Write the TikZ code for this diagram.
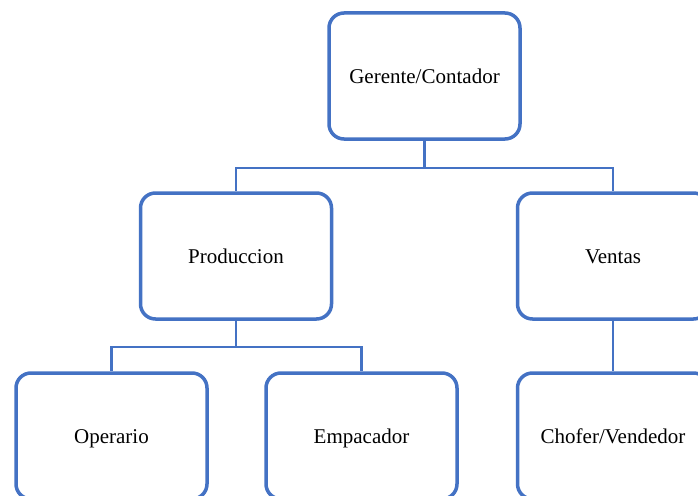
\documentclass[tikz,border=0pt]{standalone}
\usepackage{fontspec}
\setmainfont{Liberation Serif}
\begin{document}
\begin{tikzpicture}[x=1pt,y=-1pt,
  orgbox/.style={draw=boxblue, line width=3.5pt, rounded corners=15pt, fill=white,
    minimum width=191pt, minimum height=126pt, inner sep=0pt,
    text height=17pt, text depth=1.5pt,
    font=\fontsize{21}{25}\selectfont, text=black},
  conn/.style={draw=boxblue, line width=2.4pt}]
\definecolor{boxblue}{RGB}{68,114,196}
\clip (0,0) rectangle (698,495);
\fill[white] (0,0) rectangle (698,495);
\node[orgbox] (g) at (424.5,76) {Gerente/Contador};
\node[orgbox] (p) at (236,256) {Produccion};
\node[orgbox] (v) at (613,256) {Ventas};
\node[orgbox] (o) at (111.5,436) {Operario};
\node[orgbox] (e) at (361.5,436) {Empacador};
\node[orgbox] (c) at (613,436) {Chofer/Vendedor};
\path[conn] (g.south) -- ++(0,27) -| (p.north);
\path[conn] (g.south) -- ++(0,27) -| (v.north);
\path[conn] (p.south) -- ++(0,26) -| (o.north);
\path[conn] (p.south) -- ++(0,26) -| (e.north);
\path[conn] (v.south) -- (c.north);
\end{tikzpicture}
\end{document}
